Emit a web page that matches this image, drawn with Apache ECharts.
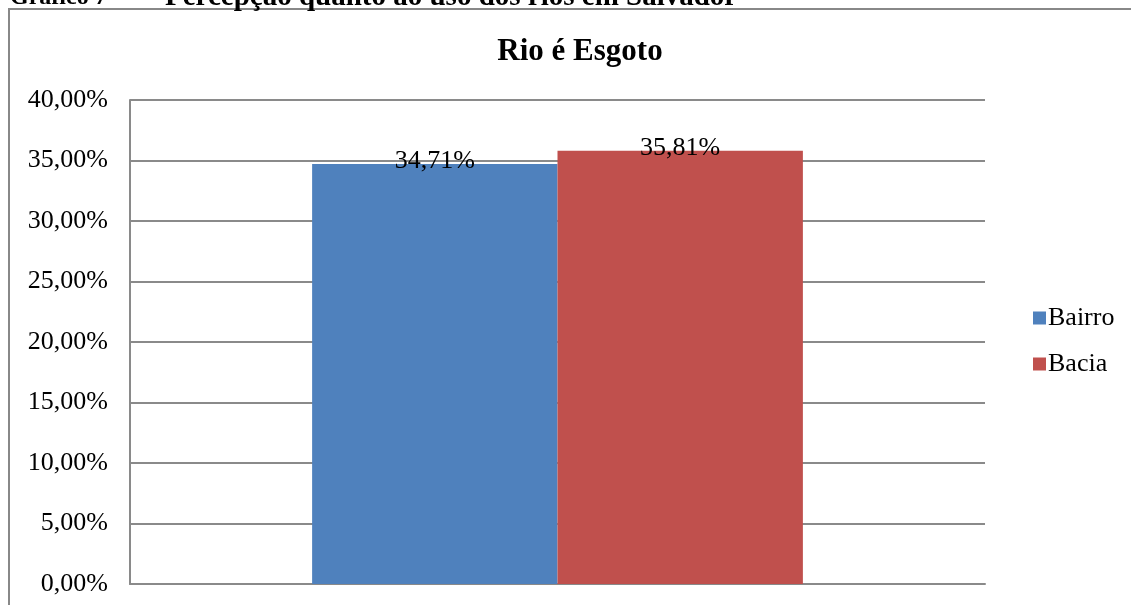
<!DOCTYPE html>
<html>
<head>
<meta charset="utf-8">
<script src="https://cdn.jsdelivr.net/npm/echarts@6/dist/echarts.min.js"></script>
<style>
  html, body { margin: 0; padding: 0; background: #fff; }
  #chart { width: 1131px; height: 605px; }
</style>
</head>
<body>
<div id="chart"></div>
<script>
// dados
var categorias = [""];
var bairro = [34.71];
var bacia = [35.81];
var serieNomes = ["Bairro", "Bacia"];
var yMax = 40;
var yStep = 5;

var fonte = "'Liberation Serif', 'Times New Roman', serif";
var fmt = function (v) {
  return v.toFixed(2).replace(".", ",") + "%";
};

var chart = echarts.init(document.getElementById("chart"));

var option = {
  backgroundColor: "#fff",
  animation: false,
  title: {
    text: "Rio é Esgoto",
    left: 575,
    top: 31,
    textAlign: "center",
    textStyle: {
      fontFamily: fonte,
      fontSize: 31,
      fontWeight: "bold",
      color: "#000",
    },
  },
  graphic: [
    {
      type: "rect",
      shape: { x: 9, y: 9, width: 1200, height: 700 },
      style: { fill: "none", stroke: "#888", lineWidth: 2 },
      silent: true,
    },
    {
      type: "text",
      x: 10,
      y: -2,
      style: {
        text: "Gráfico 7",
        font: "bold 24px " + fonte,
        fill: "#000",
        verticalAlign: "middle",
      },
    },
    {
      type: "text",
      x: 165,
      y: -2,
      style: {
        text: "Percepção quanto ao uso dos rios em Salvador",
        font: "bold 29px " + fonte,
        fill: "#000",
        verticalAlign: "middle",
      },
    },
  ],
  legend: {
    orient: "vertical",
    left: 1028,
    top: 300,
    itemWidth: 13,
    itemHeight: 13,
    itemGap: 20,
    icon: "rect",
    textStyle: { fontFamily: fonte, fontSize: 26, color: "#000", padding: [0, 0, 0, -3] },
    data: serieNomes,
  },
  grid: {
    left: 130,
    right: 146,
    top: 100,
    bottom: 21,
    containLabel: false,
  },
  xAxis: {
    type: "category",
    data: categorias,
    axisLine: { show: true, lineStyle: { color: "#8a8a8a", width: 2 } },
    axisTick: { show: false },
    axisLabel: { show: false },
  },
  yAxis: {
    type: "value",
    min: 0,
    max: yMax,
    interval: yStep,
    axisLine: { show: true, lineStyle: { color: "#8a8a8a", width: 2 } },
    axisTick: { show: false },
    splitLine: { show: true, lineStyle: { color: "#8a8a8a", width: 2 } },
    axisLabel: {
      formatter: fmt,
      margin: 22,
      fontFamily: fonte,
      fontSize: 26,
      color: "#000",
    },
  },
  series: [
    {
      name: serieNomes[0],
      type: "bar",
      data: bairro,
      barGap: "0%",
      barCategoryGap: "42.6%",
      itemStyle: { color: "#4F81BD" },
      label: {
        show: true,
        position: "top",
        distance: -10,
        formatter: function (p) { return fmt(p.value); },
        fontFamily: fonte,
        fontSize: 26,
        color: "#000",
      },
    },
    {
      name: serieNomes[1],
      type: "bar",
      data: bacia,
      barGap: "0%",
      barCategoryGap: "42.6%",
      itemStyle: { color: "#C0504D" },
      label: {
        show: true,
        position: "top",
        distance: -10,
        formatter: function (p) { return fmt(p.value); },
        fontFamily: fonte,
        fontSize: 26,
        color: "#000",
      },
    },
  ],
};

chart.setOption(option);
window.addEventListener("resize", function () {
  chart.resize();
});
</script>
</body>
</html>
